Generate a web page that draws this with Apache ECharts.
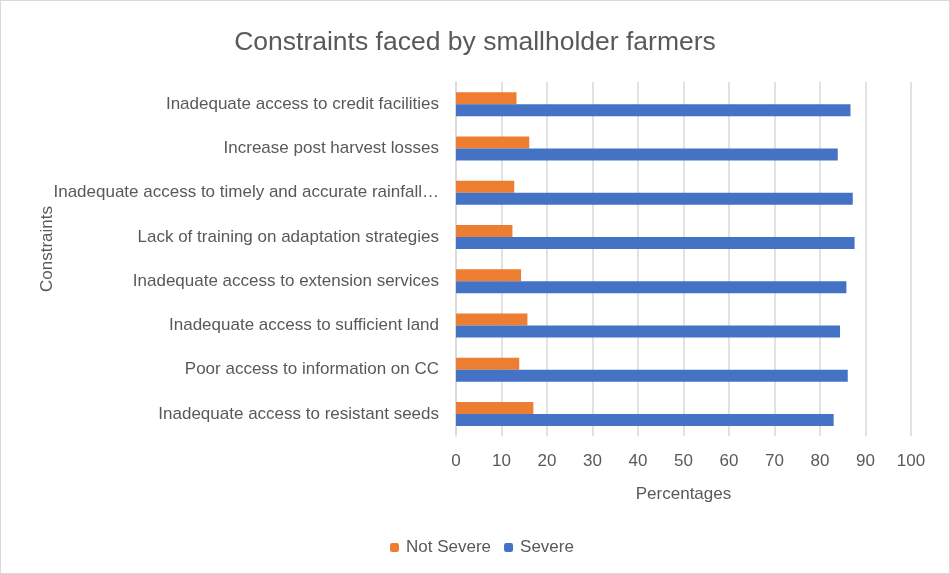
<!DOCTYPE html>
<html>
<head>
<meta charset="utf-8">
<script src="https://cdn.jsdelivr.net/npm/echarts@6/dist/echarts.min.js"></script>
<style>
  html, body { margin: 0; padding: 0; background: #fff; }
  #chart { position: absolute; left: 0; top: 0; width: 948px; height: 572px; border: 1px solid #d9d9d9; }
</style>
</head>
<body>
<div id="chart"></div>
<script>
// categories from bottom to top, as in the original
var constraints = [
    'Inadequate access to resistant seeds',
    'Poor access to information on CC',
    'Inadequate access to sufficient land',
    'Inadequate access to extension services',
    'Lack of training on adaptation strategies',
    'Inadequate access to timely and accurate rainfall information',
    'Increase post harvest losses',
    'Inadequate access to credit facilities'
];
var notSevere = [17.0, 13.9, 15.7, 14.3, 12.4, 12.8, 16.1, 13.3];
var severe = [83.0, 86.1, 84.4, 85.8, 87.6, 87.2, 83.9, 86.7];
var xTicks = [0, 10, 20, 30, 40, 50, 60, 70, 80, 90, 100];

var FONT = 'Liberation Sans';
var chart = echarts.init(document.getElementById('chart'));

var option = {
    animation: false,
    textStyle: { fontFamily: FONT },
    title: {
        text: 'Constraints faced by smallholder farmers',
        left: 'center',
        top: 23,
        textStyle: { fontFamily: FONT, fontSize: 26.5, fontWeight: 'normal', color: '#595959' }
    },
    legend: {
        data: ['Not Severe', 'Severe'],
        bottom: 12,
        left: 384,
        itemWidth: 9,
        itemHeight: 9,
        itemGap: 13,
        textStyle: { fontFamily: FONT, fontSize: 17, color: '#595959', padding: [0, 0, 0, 2] }
    },
    grid: { left: 455, right: 38, top: 81, bottom: 137 },
    xAxis: {
        type: 'value',
        min: 0,
        max: 100,
        interval: 10,
        name: 'Percentages',
        nameLocation: 'middle',
        nameGap: 50,
        nameTextStyle: { fontFamily: FONT, fontSize: 17, color: '#595959' },
        axisLine: { show: false },
        axisTick: { show: false },
        axisLabel: {
            fontFamily: FONT, fontSize: 17, color: '#595959', margin: 17,
            formatter: function (v) { return xTicks.indexOf(v) >= 0 ? String(v) : ''; }
        },
        splitLine: { lineStyle: { color: '#d9d9d9', width: 1.5 } }
    },
    yAxis: {
        type: 'category',
        data: constraints,
        name: 'Constraints',
        nameLocation: 'middle',
        nameGap: 400,
        nameRotate: 90,
        nameMoveOverlap: false,
        nameTextStyle: { fontFamily: FONT, fontSize: 17, color: '#595959', padding: [0, 0, 0, 20] },
        axisLine: { lineStyle: { color: '#d9d9d9', width: 1.5 } },
        axisTick: { show: false },
        axisLabel: {
            fontFamily: FONT, fontSize: 17, color: '#595959', margin: 17,
            width: 387, overflow: 'truncate', ellipsis: '…'
        }
    },
    series: [
        {
            name: 'Not Severe',
            type: 'bar',
            data: notSevere,
            barWidth: 12,
            barGap: '0%',
            itemStyle: { color: '#ed7d31' }
        },
        {
            name: 'Severe',
            type: 'bar',
            data: severe,
            barWidth: 12,
            barGap: '0%',
            itemStyle: { color: '#4472c4' }
        }
    ]
};
chart.setOption(option);
</script>
</body>
</html>
